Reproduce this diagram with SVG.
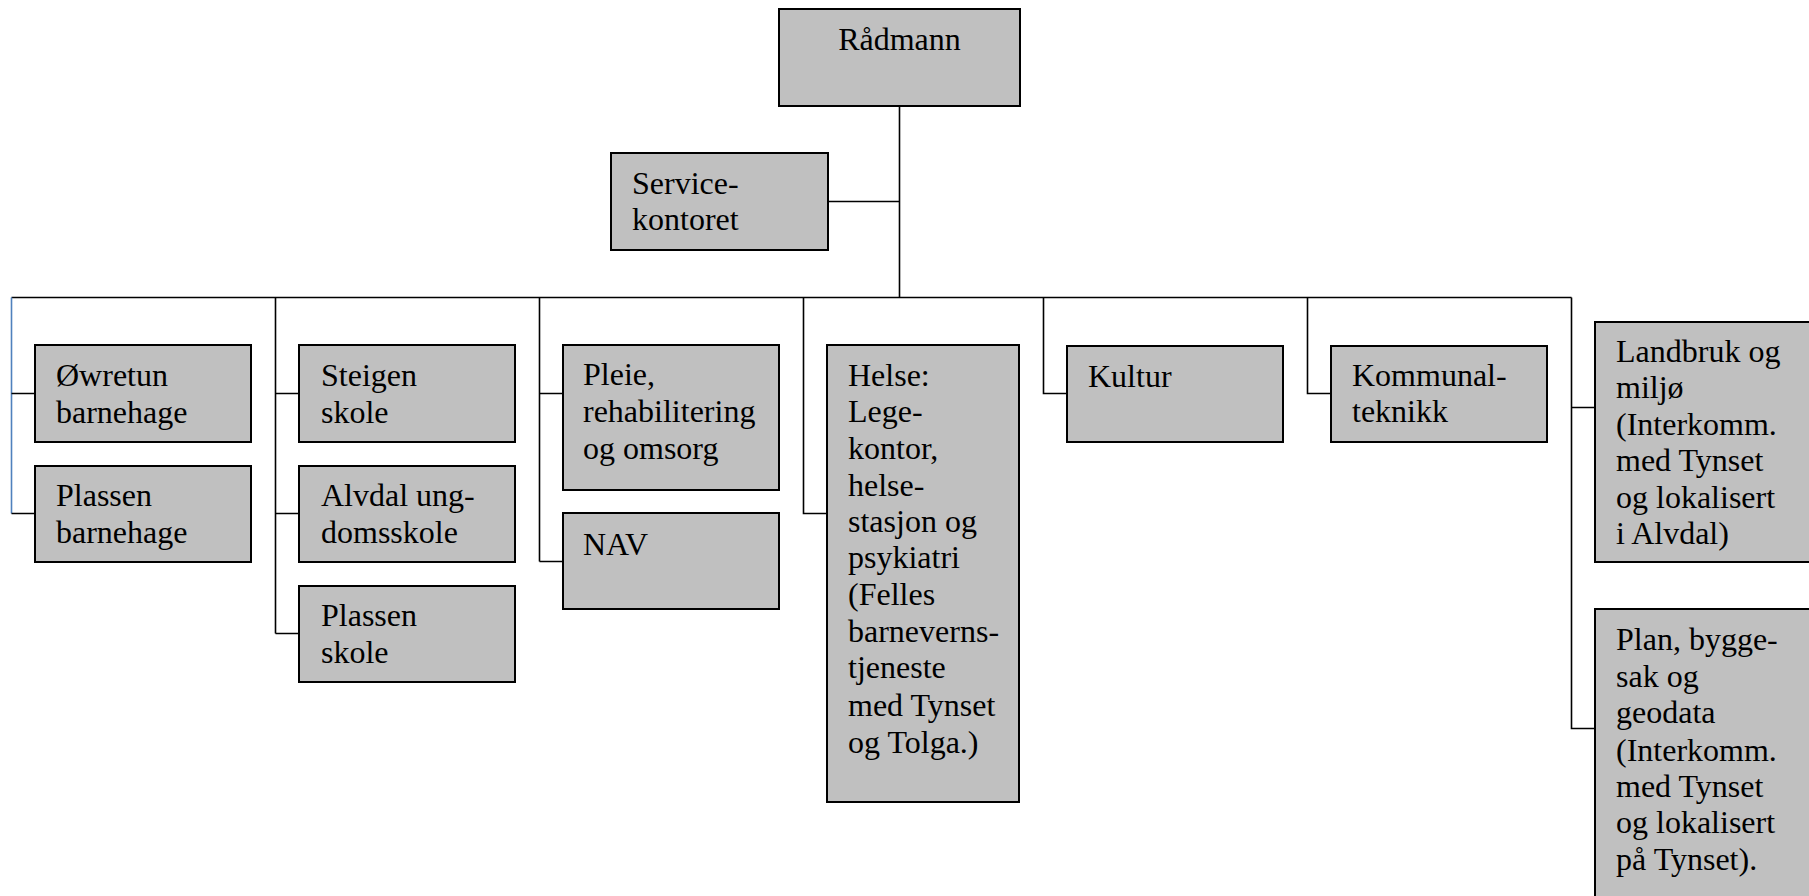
<svg xmlns="http://www.w3.org/2000/svg" width="1809" height="896" viewBox="0 0 1809 896">
<style>
.box{fill:#c0c0c0;stroke:#000;stroke-width:2}
.ln{fill:none;stroke:#000;stroke-width:1.6}
.blue{fill:none;stroke:#4f81bd;stroke-width:1.6}
text{font-family:"Liberation Serif","Times New Roman",serif;font-size:32px;fill:#000}
</style>
<rect width="1809" height="896" fill="#fff"/>
<g id="connectors">
<path class="ln" d="M899.5 106V298M828 201.5H899.5M11.5 297.5H1571.5"/>
<path class="blue" d="M11.5 297.5V513.5"/>
<path class="ln" d="M11.5 393.5H35M11.5 513.5H35"/>
<path class="ln" d="M275.5 297.5V633.5M275.5 393.5H299M275.5 513.5H299M275.5 633.5H299"/>
<path class="ln" d="M539.5 297.5V561.5M539.5 393.5H563M539.5 561.5H563"/>
<path class="ln" d="M803.5 297.5V513.5H827"/>
<path class="ln" d="M1043.5 297.5V393.5H1067"/>
<path class="ln" d="M1307.5 297.5V393.5H1331"/>
<path class="ln" d="M1571.5 297.5V728.5H1595M1571.5 407.5H1595"/>
</g>
<g id="radmann"><rect class="box" x="779" y="9" width="241" height="97"/><text x="899.5" y="50" text-anchor="middle">Rådmann</text></g>
<g id="servicekontoret"><rect class="box" x="611" y="153" width="217" height="97"/><text x="632" y="194">Service-</text><text x="632" y="230">kontoret</text></g>
<g id="owretun"><rect class="box" x="35" y="345" width="216" height="97"/><text x="56" y="386">Øwretun</text><text x="56" y="423">barnehage</text></g>
<g id="plassen-barnehage"><rect class="box" x="35" y="466" width="216" height="96"/><text x="56" y="506">Plassen</text><text x="56" y="543">barnehage</text></g>
<g id="steigen"><rect class="box" x="299" y="345" width="216" height="97"/><text x="321" y="386">Steigen</text><text x="321" y="423">skole</text></g>
<g id="alvdal"><rect class="box" x="299" y="466" width="216" height="96"/><text x="321" y="506">Alvdal ung-</text><text x="321" y="543">domsskole</text></g>
<g id="plassen-skole"><rect class="box" x="299" y="586" width="216" height="96"/><text x="321" y="626">Plassen</text><text x="321" y="663">skole</text></g>
<g id="pleie"><rect class="box" x="563" y="345" width="216" height="145"/><text x="583" y="385">Pleie,</text><text x="583" y="422">rehabilitering</text><text x="583" y="459">og omsorg</text></g>
<g id="nav"><rect class="box" x="563" y="513" width="216" height="96"/><text x="583" y="555">NAV</text></g>
<g id="helse"><rect class="box" x="827" y="345" width="192" height="457"/>
<text x="848" y="386">Helse:</text><text x="848" y="422">Lege-</text><text x="848" y="459">kontor,</text><text x="848" y="496">helse-</text><text x="848" y="532">stasjon og</text><text x="848" y="568">psykiatri</text><text x="848" y="605">(Felles</text><text x="848" y="642">barneverns-</text><text x="848" y="678">tjeneste</text><text x="848" y="716">med Tynset</text><text x="848" y="753">og Tolga.)</text></g>
<g id="kultur"><rect class="box" x="1067" y="346" width="216" height="96"/><text x="1088" y="387">Kultur</text></g>
<g id="kommunalteknikk"><rect class="box" x="1331" y="346" width="216" height="96"/><text x="1352" y="386">Kommunal-</text><text x="1352" y="422">teknikk</text></g>
<g id="landbruk"><rect class="box" x="1595" y="322" width="220" height="240"/>
<text x="1616" y="362">Landbruk og</text><text x="1616" y="398">miljø</text><text x="1616" y="435">(Interkomm.</text><text x="1616" y="471">med Tynset</text><text x="1616" y="508">og lokalisert</text><text x="1616" y="544">i Alvdal)</text></g>
<g id="plan"><rect class="box" x="1595" y="609" width="220" height="300"/>
<text x="1616" y="650">Plan, bygge-</text><text x="1616" y="687">sak og</text><text x="1616" y="723">geodata</text><text x="1616" y="761">(Interkomm.</text><text x="1616" y="797">med Tynset</text><text x="1616" y="833">og lokalisert</text><text x="1616" y="870">på Tynset).</text></g>
</svg>
